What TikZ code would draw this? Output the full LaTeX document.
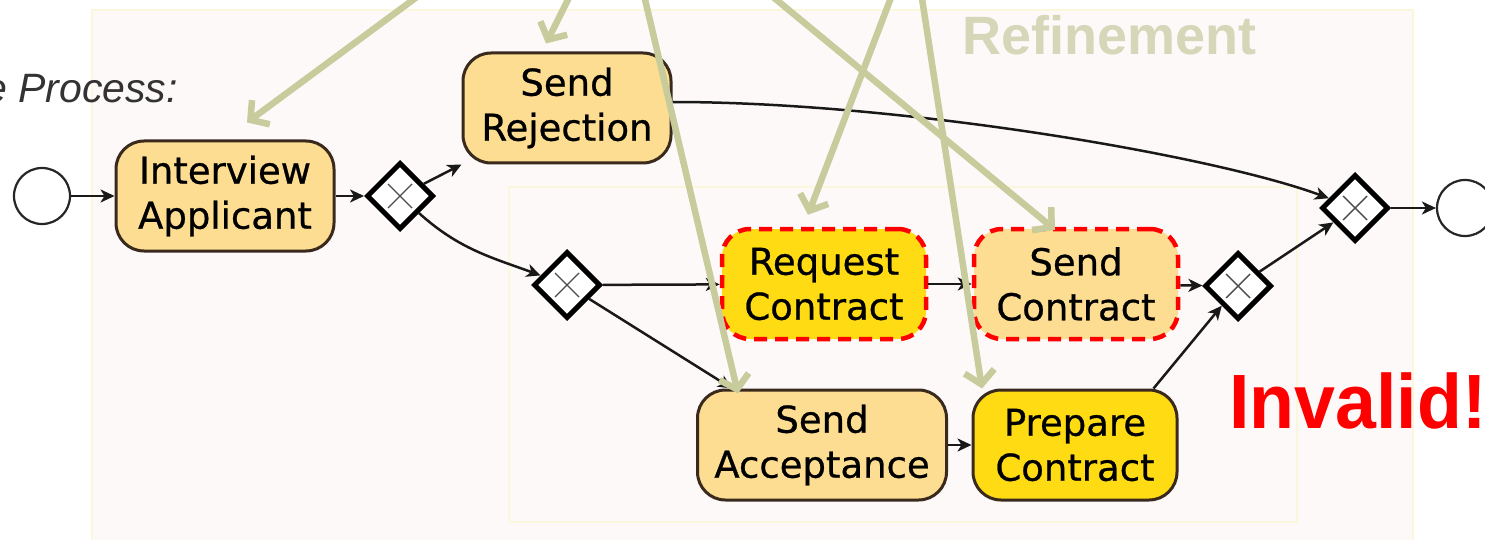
\documentclass[tikz,border=0pt]{standalone}
\usepackage{fontspec}
\setmainfont{DejaVu Sans}
\newfontfamily\taskfont[FakeBold=0.7]{DejaVu Sans}
\newfontfamily\arialfont{Liberation Sans}
\usetikzlibrary{shapes.geometric,arrows.meta,calc}

\definecolor{framefill}{HTML}{FDF9F8}
\definecolor{frameline}{HTML}{FBF7DA}
\definecolor{tasklight}{HTML}{FCDD91}
\definecolor{taskgold}{HTML}{FEDB12}
\definecolor{taskline}{HTML}{3A2A1E}
\definecolor{hintgreen}{HTML}{C8CB9C}
\definecolor{reftext}{HTML}{D6D7B9}
\definecolor{warnred}{HTML}{FF0000}
\definecolor{procgray}{HTML}{333333}

\begin{document}
\begin{tikzpicture}[x=1pt,y=1pt,
  frame/.style={draw=frameline, fill=framefill, line width=2pt},
  task/.style={rectangle, rounded corners=28pt, draw=taskline, line width=3pt,
    fill=tasklight, align=center, inner sep=0pt, minimum height=110pt,
    font=\taskfont\fontsize{37}{45}\selectfont},
  gold/.style={fill=taskgold},
  changed/.style={draw=warnred, line width=4.5pt, dash pattern=on 13pt off 8pt},
  gateway/.style={diamond, aspect=1, draw=black, line width=5pt, fill=white,
    inner sep=0pt, minimum width=67pt, minimum height=67pt,
    path picture={\draw[line width=1.4pt, black!70]
      ([shift={(-12,-12)}]path picture bounding box.center) --
      ([shift={(12,12)}]path picture bounding box.center)
      ([shift={(-12,12)}]path picture bounding box.center) --
      ([shift={(12,-12)}]path picture bounding box.center);}},
  event/.style={circle, draw=black!85, line width=2.2pt, fill=white,
    inner sep=0pt, minimum size=56pt},
  flow/.style={draw=black!90, line width=2.5pt,
    -{Stealth[length=14pt,width=13pt,inset=4pt]}},
  hint/.style={draw=hintgreen, line width=6.5pt,
    -{Straight Barb[length=13pt,width=30pt]}},
]
\clip (0,0) rectangle (1485,-540);
\fill[white] (0,0) rectangle (1485,-540);

% frames
\draw[frame] (92,-10) rectangle (1413,-548);
\draw[frame] (509,-187) rectangle (1297,-522);

% labels
\node[font=\arialfont\itshape\fontsize{41}{41}\selectfont, text=procgray,
  anchor=base east, inner sep=0pt] (proc) at (178,-103) {e Process:};
\node[font=\arialfont\bfseries\fontsize{54}{54}\selectfont, text=reftext,
  anchor=base west, inner sep=0pt] (refine) at (962,-55) {Refinement};
\node[font=\arialfont\bfseries\fontsize{77}{77}\selectfont, text=warnred,
  anchor=base west, inner sep=0pt] (invalid) at (1229,-428)
  {\scalebox{0.955}[1]{Invalid!}};

% events and gateways
\node[event] (start) at (42,-196) {};
\node[event] (end) at (1465,-208) {};
\node[gateway] (g1) at (400,-196) {};
\node[gateway] (g2) at (567,-285) {};
\node[gateway] (g3) at (1238,-286) {};
\node[gateway] (g4) at (1355,-208) {};

% tasks
\node[task, minimum width=218pt] (interview) at (225,-196) {Interview\\Applicant};
\node[task, minimum width=208pt] (reject) at (567,-108) {Send\\Rejection};
\node[task, gold, changed, minimum width=204pt] (request) at (824,-284) {Request\\Contract};
\node[task, changed, minimum width=204pt] (sendc) at (1076,-284) {Send\\Contract};
\node[task, minimum width=249pt] (accept) at (822,-445) {Send\\Acceptance};
\node[task, gold, minimum width=204pt] (prepare) at (1075,-445) {Prepare\\Contract};

% sequence flows
\draw[flow] (start) -- (interview);
\draw[flow] (interview) -- (g1);
\draw[flow] (g1) -- (reject.south west);
\draw[flow] (g1) to[out=-42, in=160] (g2);
\draw[flow] ([yshift=6pt]reject.east) .. controls +(230,0) and +(-140,52) .. (g4);
\draw[flow] (g2) -- (request);
\draw[flow] (g2) -- (accept);
\draw[flow] (request) -- (sendc);
\draw[flow] (accept) -- (prepare);
\draw[flow] (sendc) -- (g3);
\coordinate (prepout) at ($(prepare.north east)+(-25,0)$);
\draw[flow] (prepout) -- (g3);
\draw[flow] (g3) -- (g4);
\draw[flow] (g4) -- (end);

% annotation pointers
\coordinate (srcA) at (494,60);
\coordinate (srcB) at (598,60);
\coordinate (srcC) at (631,60);
\coordinate (srcD) at (704,60);
\coordinate (srcE) at (913,60);
\coordinate (srcF) at (913,60);
\coordinate (tipA) at ($(interview.north)+(22,17)$);
\coordinate (tipB) at ($(reject.north)+(-21,8)$);
\coordinate (tipC) at ($(accept.north)+(-84,-5)$);
\coordinate (tipD) at ($(sendc.north)+(-21,-3)$);
\coordinate (tipE) at ($(request.north)+(-16,12)$);
\coordinate (tipF) at ($(prepare.north)+(-93,0)$);
\draw[hint] (srcA) -- (tipA);
\draw[hint] (srcB) -- (tipB);
\draw[hint] (srcC) -- (tipC);
\draw[hint] (srcD) -- (tipD);
\draw[hint] (srcE) -- (tipE);
\draw[hint] (srcF) -- (tipF);
\end{tikzpicture}
\end{document}
